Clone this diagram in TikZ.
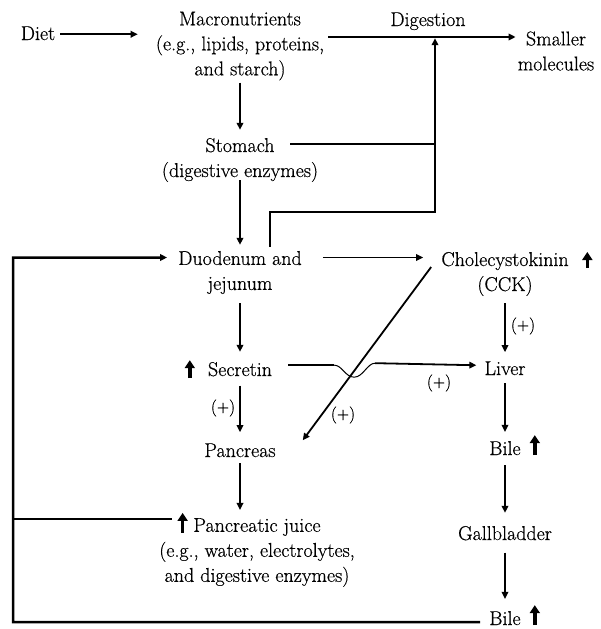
\documentclass[tikz,border=0pt]{standalone}
\usepackage{fontspec}
\setmainfont{Latin Modern Roman}[FakeBold=0.5]
\usetikzlibrary{arrows.meta,calc}
\begin{document}
\begin{tikzpicture}[x=1pt,y=-1pt,
  txt/.style={inner sep=0pt, align=center, font=\fontsize{20}{25}\selectfont},
  lbl/.style={inner sep=0pt, font=\fontsize{17}{20}\selectfont},
  arr/.style={line width=1.7pt, -{Triangle[length=7pt,width=6.5pt]}},
  thk/.style={line width=2.2pt},
  loopline/.style={line width=2.5pt},
  upmark/.style={line width=3.4pt, -{Triangle[length=8pt,width=10pt]}},
]
\useasboundingbox (0,0) rectangle (600,629);

% nodes
\node[txt,anchor=base] (diet) at (38,40) {Diet};
\node[txt] (macro) at (240,46) {Macronutrients\\(e.g., lipids, proteins,\\and starch)};
\node[txt,anchor=base] (dig) at (428,26) {Digestion};
\node[txt] (small) at (556,51) {Smaller\\molecules};
\node[txt] (stom) at (240,160) {Stomach\\(digestive enzymes)};
\node[txt] (duod) at (240,272.5) {Duodenum and\\jejunum};
\node[txt] (cck) at (505,274) {Cholecystokinin\\(CCK)};
\node[txt,anchor=base] (secr) at (240,376) {Secretin};
\node[txt,anchor=base] (liver) at (505,375) {Liver};
\node[txt,anchor=base] (panc) at (240,457) {Pancreas};
\node[txt] (juice) at (257,552.5) {Pancreatic juice\\(e.g., water, electrolytes,\\and digestive enzymes)};
\node[txt,anchor=base] (bile1) at (505,455) {Bile};
\node[txt,anchor=base] (gall) at (505,540) {Gallbladder};
\node[txt,anchor=base] (bile2) at (505,625) {Bile};

\node[lbl] (p1) at (523,326) {(+)};
\node[lbl] (p2) at (439,383) {(+)};
\node[lbl] (p3) at (223,408) {(+)};
\node[lbl] (p4) at (343,415) {(+)};

% junction coordinates
\coordinate (djn) at (435,37);
\coordinate (sj) at (435,144);
\coordinate (dj) at (435,212);
\coordinate (lc) at (13,622);

% top row
\draw[arr,thk] ($(diet.east)+(5,1)$) -- ($(diet.east -| macro.west)+(-18,1)$);
\draw[arr,thk] ($(macro.east |- djn)+(4,0)$) -- ($(djn -| small.west)+(-2,0)$);

% stomach / duodenum feed into digestion
\draw[thk] ($(stom.center)+(50,-16)$) -- (sj);
\draw[arr,thk] ($(duod.north)+(30,-4)$) |- (dj) -- ([yshift=-1.2pt]djn);

% main column
\draw[arr,shorten <=2pt,shorten >=8pt] (macro.south) -- (stom.north);
\draw[arr,shorten <=-2pt,shorten >=6pt] (stom.south) -- (duod.north);
\draw[arr] ($(duod.east)+(21,-15)$) -- ($(duod.east -| cck.west)+(-18,-15)$);
\draw[arr,shorten <=9pt,shorten >=10pt] (duod.south) -- (secr.north);
\draw[arr,shorten <=9pt,shorten >=11pt] (secr.south) -- (panc.north);
\draw[arr,shorten <=6pt,shorten >=8pt] (panc.south) -- (panc.south |- juice.north);

% right column
\draw[arr,shorten <=7pt,shorten >=9pt] (cck.south) -- (liver.north);
\draw[arr,shorten <=8pt,shorten >=9pt] (liver.south) -- (bile1.north);
\draw[arr,shorten <=10pt,shorten >=13pt] (bile1.south) -- (gall.north);
\draw[arr,shorten <=12pt,shorten >=12pt] (gall.south) -- (bile2.north);

% secretin -> liver with jump
\coordinate (b1) at ($(secr.east)+(62,-4)$);
\coordinate (bm) at ($(b1)+(20,12)$);
\coordinate (b2) at ($(b1)+(41,-2)$);
\draw[line width=1.8pt] ($(secr.east)+(16,-4)$) -- (b1);
\draw[line width=1pt] (b1) .. controls +(8,0) and +(-9,0) .. (bm) .. controls +(9,0) and +(-8,0) .. (b2);
\draw[arr,line width=1.8pt] (b2) -- ($(liver.west)+(-8,-3)$);

% CCK -> pancreas diagonal
\draw[arr,line width=1.8pt] ($(cck.west)+(-10,-7)$) -- ($(panc.east)+(27,-10)$);

% feedback loops
\draw[arr,loopline] ($(bile2.west)+(-9,4)$) -- (lc) |- ($(duod.west)+(-11,-15)$);
\draw[loopline] ($(juice.west)+(12.5,-33.5)$) -- ($(lc |- juice.west)+(0,-33.5)$);

% up marks
\draw[upmark] ($(cck.east)+(18.5,-6)$) -- ++(0,-16);
\draw[upmark] ($(secr.west)+(-18,9)$) -- ++(0,-18);
\draw[upmark] ($(juice.west)+(23.6,-19.6)$) -- ++(0,-20);
\draw[upmark] ($(bile1.east)+(14,7)$) -- ++(0,-20);
\draw[upmark] ($(bile2.east)+(14,7)$) -- ++(0,-20);
\end{tikzpicture}
\end{document}
